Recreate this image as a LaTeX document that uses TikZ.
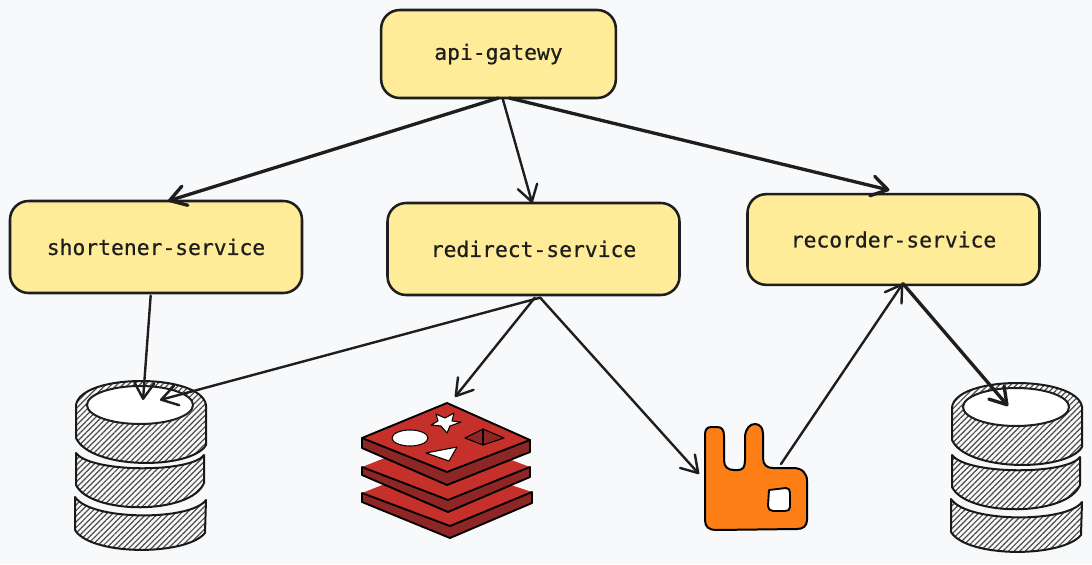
\documentclass[tikz,border=0pt]{standalone}
\usepackage{fontspec}
\setmonofont[FakeBold=0.6]{DejaVu Sans Mono}
\usetikzlibrary{arrows.meta,patterns.meta}
\definecolor{pagebg}{HTML}{F8F9FB}
\definecolor{boxfill}{HTML}{FFEC99}
\definecolor{inkline}{HTML}{1E1E1E}
\definecolor{redistop}{HTML}{C5302A}
\definecolor{redisside}{HTML}{8E2626}
\definecolor{rabbitfill}{HTML}{FD7E14}
\newcommand{\svclabel}[2][-1pt]{\raisebox{#1}{#2}}
\tikzset{
    service/.style={draw=inkline,fill=boxfill,line width=1.9pt,rounded corners=14pt,outer sep=0pt,
        inner sep=0pt,font=\ttfamily\fontsize{16}{16}\selectfont,text=inkline},
    flow/.style={draw=inkline,line width=1.8pt,line cap=round,-{Straight Barb[length=12pt,width=15pt,round]}},
    flowbold/.style={flow,line width=2.5pt},
    hatched/.style={draw=black!90,line width=1.5pt,line join=round,
        pattern={Lines[angle=45,distance=3pt,line width=0.9pt]},pattern color=black!70},
    plate/.style={draw=black,line width=1.4pt,line join=round},
    dbstack/.pic={
        \path[hatched] (-65,24)..controls (-60,-8) and (60,-8)..(65,24)--(65,64)
            ..controls (50,89) and (-50,89)..(-65,57)--cycle;
        \path[hatched] (-65,72)..controls (-50,92) and (50,92)..(63,74)--(63,102)
            ..controls (50,134) and (-50,134)..(-65,104)--cycle;
        \path[hatched] (-66,116)..controls (-50,140) and (50,140)..(65,119)--(64,152)
            ..controls (45,175) and (-50,175)..(-66,149)--cycle;
        \draw[inkline,fill=white,line width=1.5pt] (-1,24) ellipse (53 and 19);
    }
}
\begin{document}
\begin{tikzpicture}[x=0.75pt,y=-0.75pt,line join=round,line cap=round]
    \useasboundingbox[fill=pagebg] (0,0) rectangle (1092,564);

    \node[service,minimum width=176pt,minimum height=66pt] (gateway) at (498.5,54) {\svclabel[-2pt]{api-gatewy}};
    \node[service,minimum width=219pt,minimum height=69pt] (shortener) at (156,247) {\svclabel{shortener-service}};
    \node[service,minimum width=219pt,minimum height=69pt] (redirect) at (533.5,249) {\svclabel{redirect-service}};
    \node[service,minimum width=219pt,minimum height=68pt] (recorder) at (893.5,239.5) {\svclabel{recorder-service}};

    % databases
    \pic at (141,381) {dbstack};
    \pic at (1017,383) {dbstack};
    \coordinate (shortdb) at (143,400);
    \coordinate (sharedb) at (160,400);
    \coordinate (recorddb) at (1008,406);

    % redis
    \fill[redisside] (362,493)--(450,526)--(532,492)--(532,503)--(450,538)--(362,502)--cycle;
    \fill[redistop] (362,493)--(400,478)--(490,478)--(532,492)--(450,526)--cycle;
    \draw[plate] (362,493)--(450,526)--(532,492) (362,493)--(362,502)--(450,538)--(532,503)--(532,492);
    \fill[redisside] (362,467)--(448,500)--(530,467)--(530,477)--(448,512)--(362,475)--cycle;
    \fill[redistop] (362,467)--(400,452)--(490,452)--(530,467)--(448,500)--cycle;
    \draw[plate] (362,467)--(448,500)--(530,467) (362,467)--(362,475)--(448,512)--(530,477)--(530,467);
    \fill[redisside] (362,438)--(447,472)--(530,440)--(530,452)--(447,485)--(362,448)--cycle;
    \draw[plate,fill=redistop] (447,403)--(362,438)--(447,472)--(530,440)--cycle;
    \draw[plate] (362,438)--(362,448)--(447,485)--(530,452)--(530,440);
    \draw[plate,fill=white,line width=0.8pt] (410,438) ellipse (18 and 8);
    \draw[plate,fill=white,line width=0.8pt] (436,414)--(445,418)--(454,413)--(452,421)--(461,422)--(450,426)
        --(447,433)--(441,426)--(431,425)--(438,421)--cycle;
    \draw[plate,fill=redisside,line width=0.8pt] (465,438)--(483,429)--(504,438)--(483,445)--cycle;
    \draw[plate,line width=0.8pt] (483,429)--(483,445);
    \draw[plate,fill=white,line width=0.8pt] (426,453)--(457,447)--(449,461)--cycle;
    \coordinate (redisin) at (455,397);

    % rabbit
    \draw[fill=rabbitfill,draw=black,line width=1.5pt] (705,435)..controls (705,429) and (707,427) .. (712,427)
        --(717,427)..controls (722,427) and (724,430) .. (724,436)--(724,460)
        ..controls (724,467) and (728,470) .. (734,470)--(738,470)
        ..controls (743,470) and (745,467) .. (745,460)--(745,436)
        ..controls (746,428) and (750,424) .. (755,424)..controls (760,424) and (763,428) .. (763,434)--(763,458)
        ..controls (763,465) and (767,468) .. (773,468)--(793,468)
        ..controls (802,468) and (807,473) .. (807,481)--(807,520)
        ..controls (807,526) and (803,529) .. (797,529)--(716,530)
        ..controls (709,530) and (705,527) .. (705,520)--cycle;
    \draw[fill=white,draw=black,line width=1.4pt] (769,490)--(786,488)..controls (789,488) and (790,490) .. (790,493)
        --(790,507)..controls (790,510) and (788,511) .. (785,511)--(773,511)
        ..controls (770,511) and (768,509) .. (768,506)--cycle;
    \coordinate (rabbitin) at (699,474);
    \coordinate (rabbitout) at (781,464);

    % connectors
    \draw[flowbold] (gateway.south) -- ([xshift=9pt]shortener.north);
    \draw[flow] ([xshift=3pt]gateway.south) -- ([xshift=-1pt]redirect.north);
    \draw[flowbold] ([xshift=8pt]gateway.south) -- ([xshift=-3pt,yshift=3pt]recorder.north);
    \draw[flow] ([xshift=-4pt,yshift=-2pt]shortener.south) -- (shortdb);
    \draw[flow] ([xshift=5pt,yshift=-2pt]redirect.south) -- (sharedb);
    \draw[flow] ([xshift=1pt,yshift=-2pt]redirect.south) -- (redisin);
    \draw[flow] ([xshift=5pt,yshift=-2pt]redirect.south) -- (rabbitin);
    \draw[flow] (rabbitout) -- ([xshift=7pt,yshift=1pt]recorder.south);
    \draw[flowbold] ([xshift=7pt,yshift=1pt]recorder.south) -- (recorddb);
\end{tikzpicture}
\end{document}
